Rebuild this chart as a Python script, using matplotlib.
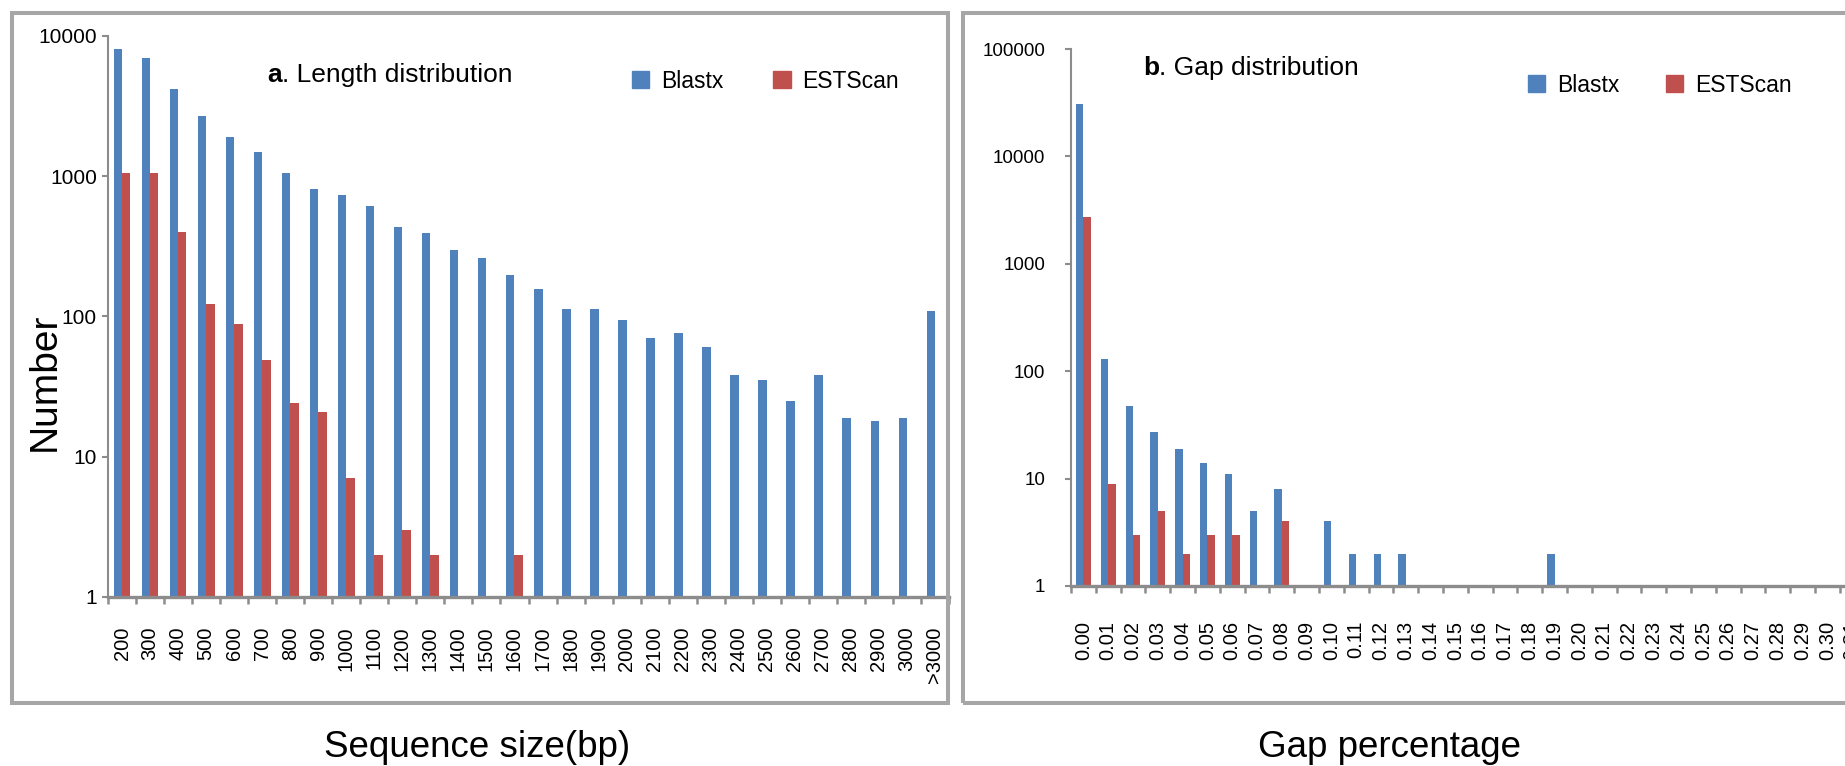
import numpy as np
import matplotlib
matplotlib.use('Agg')
import matplotlib.pyplot as plt
from matplotlib.patches import Rectangle, Patch
from matplotlib.ticker import NullFormatter, NullLocator

plt.rcParams['font.family'] = ['Liberation Sans', 'DejaVu Sans']

# a. length distribution
size_labels = ['200', '300', '400', '500', '600', '700', '800', '900', '1000',
               '1100', '1200', '1300', '1400', '1500', '1600', '1700', '1800',
               '1900', '2000', '2100', '2200', '2300', '2400', '2500', '2600',
               '2700', '2800', '2900', '3000', '>3000']
size_blastx = [8100, 7000, 4200, 2700, 1900, 1500, 1060, 810, 730, 610, 435, 395,
               300, 260, 198, 158, 114, 114, 95, 70, 76, 61, 38, 35, 25, 38, 19,
               18, 19, 110]
size_estscan = [1050, 1050, 400, 122, 89, 49, 24, 21, 7, 2, 3, 2, 0, 0, 2, 0, 0,
                0, 0, 0, 0, 0, 0, 0, 0, 0, 0, 0, 0, 0]

# b. gap distribution
gap_labels = ['0.00', '0.01', '0.02', '0.03', '0.04', '0.05', '0.06', '0.07',
              '0.08', '0.09', '0.10', '0.11', '0.12', '0.13', '0.14', '0.15',
              '0.16', '0.17', '0.18', '0.19', '0.20', '0.21', '0.22', '0.23',
              '0.24', '0.25', '0.26', '0.27', '0.28', '0.29', '0.30', '0.31']
gap_blastx = [31000, 129, 47, 27, 19, 14, 11, 5, 8, 0, 4, 2, 2, 2, 0, 0, 0, 0, 0,
              2, 0, 0, 0, 0, 0, 0, 0, 0, 0, 0, 0, 0]
gap_estscan = [2750, 9, 3, 5, 2, 3, 3, 0, 4, 0, 0, 0, 0, 0, 0, 0, 0, 0, 0, 0, 0,
               0, 0, 0, 0, 0, 0, 0, 0, 0, 0, 0]

BLUE = '#4F81BD'
RED = '#C0504D'
GREY = '#8c8c8c'
FRAME = '#a6a6a6'
W, H = 1845, 766


def box(x0, y0, x1, y1):
    # pixel box (top-left origin) -> figure fraction rect
    return [x0 / W, 1 - y1 / H, (x1 - x0) / W, (y1 - y0) / H]


def fx(x):
    return x / W


def fy(y):
    return 1 - y / H


def draw_panel(ax, labels, blastx, estscan, top, ylab_size, ylab_pad, xlab_pad):
    x = np.arange(len(labels))
    bw = 0.3
    ax.set_yscale('log')
    ax.bar(x - bw / 2, blastx, bw, color=BLUE, linewidth=0)
    ax.bar(x + bw / 2, estscan, bw, color=RED, linewidth=0)
    ax.set_ylim(1, top)
    ax.set_xlim(-0.5, len(labels) - 0.5)

    decades = [10 ** i for i in range(int(np.log10(top)) + 1)]
    ax.set_yticks(decades)
    ax.set_yticklabels([str(d) for d in decades])
    ax.yaxis.set_minor_locator(NullLocator())

    ax.set_xticks(np.arange(len(labels) + 1) - 0.5)
    ax.xaxis.set_major_formatter(NullFormatter())
    ax.set_xticks(x, labels, minor=True)

    for s in ['top', 'right']:
        ax.spines[s].set_visible(False)
    ax.spines['left'].set_color(GREY)
    ax.spines['left'].set_linewidth(1.5)
    ax.spines['bottom'].set_color(GREY)
    ax.spines['bottom'].set_linewidth(2.4)

    ax.tick_params(axis='y', which='major', direction='out', length=4.5, width=1.5,
                   color=GREY, labelsize=ylab_size, pad=ylab_pad)
    ax.tick_params(axis='x', which='major', direction='out', length=5, width=1.8,
                   color=GREY)
    ax.tick_params(axis='x', which='minor', length=0, pad=xlab_pad,
                   labelsize=14.5, labelrotation=90)


def add_legend(ax, fig, x, y, spacing):
    handles = [Patch(color=BLUE, label='Blastx'), Patch(color=RED, label='ESTScan')]
    ax.legend(handles=handles, loc='center left', bbox_to_anchor=(fx(x), fy(y)),
              bbox_transform=fig.transFigure, ncol=2, frameon=False, borderpad=0,
              borderaxespad=0, handlelength=0.75, handleheight=0.75,
              handletextpad=0.5, columnspacing=spacing, fontsize=16.5)


def add_title(ax, fig, x, y, letter, rest):
    t = fig.text(fx(x), fy(y), letter, fontsize=19, fontweight='bold',
                 ha='left', va='baseline')
    ax.annotate(rest, xy=(1, 0), xycoords=t, fontsize=19, ha='left', va='bottom',
                annotation_clip=False, clip_on=False)


fig = plt.figure(figsize=(W / 100, H / 100), dpi=100)

# panel frames
fig.add_artist(Rectangle((fx(12), fy(703)), fx(948) - fx(12), fy(13) - fy(703),
                         transform=fig.transFigure, fill=False, edgecolor=FRAME,
                         linewidth=2.9))
fig.add_artist(Rectangle((fx(963), fy(703)), fx(1950) - fx(963), fy(13) - fy(703),
                         transform=fig.transFigure, fill=False, edgecolor=FRAME,
                         linewidth=2.9))

ax1 = fig.add_axes(box(108, 36, 949, 597))
draw_panel(ax1, size_labels, size_blastx, size_estscan, 10000, 15, 3.5, 21)
add_legend(ax1, fig, 632, 81, 2.2)

ax2 = fig.add_axes(box(1071, 49, 1071 + 32 * 24.8, 586))
draw_panel(ax2, gap_labels, gap_blastx, gap_estscan, 100000, 13.5, 14, 25)
add_legend(ax2, fig, 1528, 85, 2.05)

add_title(ax1, fig, 267, 82, 'a', '. Length distribution')
add_title(ax2, fig, 1143, 75, 'b', '. Gap distribution')

fig.text(fx(45), fy(382), 'Number', fontsize=28, rotation=90, ha='center', va='center')
fig.text(fx(477), fy(757), 'Sequence size(bp)', fontsize=26.5, ha='center', va='baseline')
fig.text(fx(1390), fy(757), 'Gap percentage', fontsize=26.5, ha='center', va='baseline')

fig.savefig('out.png', dpi=100)
